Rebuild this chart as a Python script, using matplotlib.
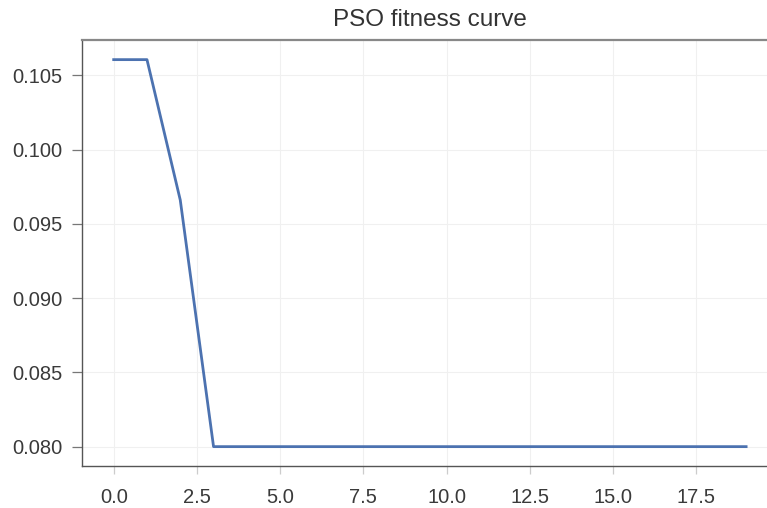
import numpy as np
import matplotlib
matplotlib.use("Agg")
import matplotlib.pyplot as plt

plt.rcParams["font.family"] = ["Liberation Sans", "DejaVu Sans"]

# best fitness per PSO iteration
iterations = np.arange(20)
fitness = [0.10605, 0.10605, 0.0966, 0.0800, 0.0800, 0.0800, 0.0800, 0.0800,
           0.0800, 0.0800, 0.0800, 0.0800, 0.0800, 0.0800, 0.0800, 0.0800,
           0.0800, 0.0800, 0.0800, 0.0800]
xticks = [0.0, 2.5, 5.0, 7.5, 10.0, 12.5, 15.0, 17.5]
yticks = [0.080, 0.085, 0.090, 0.095, 0.100, 0.105]

fig = plt.figure(figsize=(7.67, 5.08), dpi=100)
ax = fig.add_axes([0.107, 0.0827, 0.907, 0.838])
ax.plot(iterations, fitness, color="#4C72B0", lw=2)

ax.set_xticks(xticks)
ax.set_xticklabels([f"{t:.1f}" for t in xticks])
ax.set_yticks(yticks)
ax.set_yticklabels([f"{t:.3f}" for t in yticks])
ax.grid(color="#f0f0f0", lw=0.8)
ax.set_axisbelow(True)

ax.tick_params(axis="y", colors="#777777", labelcolor="#3a3a3a", labelsize=14.5,
               length=7, width=0.9, pad=7)
ax.tick_params(axis="x", colors="#cccccc", labelcolor="#3a3a3a", labelsize=14.5,
               length=6, width=0.9, pad=10)
for s in ["left", "bottom"]:
    ax.spines[s].set_color("#555555")
    ax.spines[s].set_linewidth(1.0)
ax.spines["top"].set_color("#888888")
ax.spines["top"].set_linewidth(1.6)
ax.spines["right"].set_visible(False)

ax.set_title("PSO fitness curve", fontsize=17.5, color="#333333", pad=10)

fig.savefig("out.png", dpi=100)
